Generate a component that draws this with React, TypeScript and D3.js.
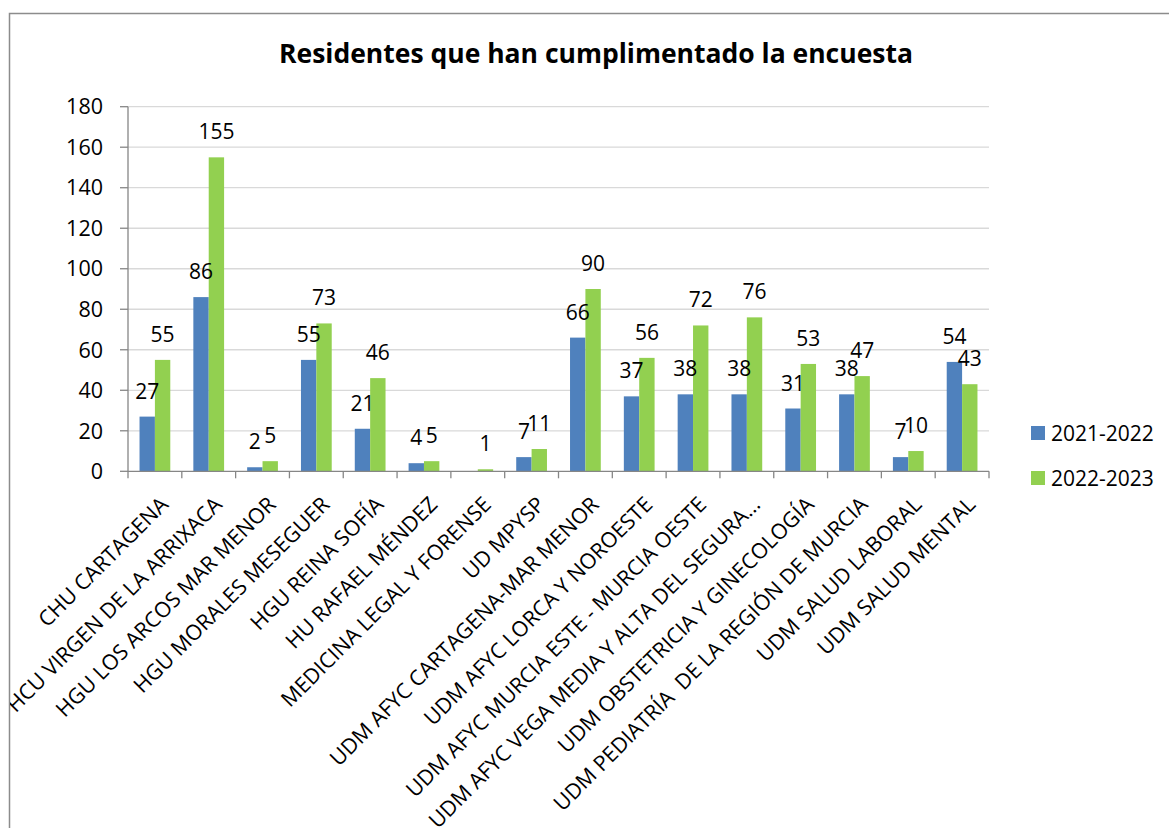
import React from "react";
import * as d3 from "d3";

const title = "Residentes que han cumplimentado la encuesta";
const categories = [
  "CHU CARTAGENA",
  "HCU VIRGEN DE LA ARRIXACA",
  "HGU LOS ARCOS MAR MENOR",
  "HGU MORALES MESEGUER",
  "HGU REINA SOFÍA",
  "HU RAFAEL MÉNDEZ",
  "MEDICINA LEGAL Y FORENSE",
  "UD MPYSP",
  "UDM AFYC CARTAGENA-MAR MENOR",
  "UDM AFYC LORCA Y NOROESTE",
  "UDM AFYC MURCIA ESTE - MURCIA OESTE",
  "UDM AFYC VEGA MEDIA Y ALTA DEL SEGURA…",
  "UDM OBSTETRICIA Y GINECOLOGÍA",
  "UDM PEDIATRÍA  DE LA REGIÓN DE MURCIA",
  "UDM SALUD LABORAL",
  "UDM SALUD MENTAL",
];
const seriesNames = ["2021-2022", "2022-2023"];
const values2021: (number | null)[] = [27, 86, 2, 55, 21, 4, null, 7, 66, 37, 38, 38, 31, 38, 7, 54];
const values2022: (number | null)[] = [55, 155, 5, 73, 46, 5, 1, 11, 90, 56, 72, 76, 53, 47, 10, 43];
const yTicks = [0, 20, 40, 60, 80, 100, 120, 140, 160, 180];
const colors = ["#4f81bd", "#92d050"];

const FONT = "'Open Sans', sans-serif";

export default function App() {
  const W = 1169, H = 828;
  const left = 128, right = 989, top = 106.7, bottom = 471.3;
  const x = d3.scaleBand<string>().domain(categories).range([left, right]).paddingInner(0).paddingOuter(0);
  const xs = d3.scaleBand<string>().domain(seriesNames).range([0, x.step()]).paddingInner(0).paddingOuter(0.75);
  const y = d3.scaleLinear().domain([0, 180]).range([bottom, top]);
  const series = [values2021, values2022];

  return (
    <svg width={W} height={H} style={{ position: "absolute", left: 0, top: 0, background: "#fff" }} fontFamily={FONT}>
      <defs>
        <clipPath id="chartClip">
          <rect x={10} y={14} width={W} height={H} />
        </clipPath>
      </defs>
      <rect x={9.5} y={13.5} width={W + 10} height={H + 10} fill="#fff" stroke="#8c8c8c" strokeWidth={1.5} />
      <text x={596} y={63} textAnchor="middle" fontSize={26.5} fontWeight="bold" fill="#000">{title}</text>
      {/* gridlines */}
      {yTicks.filter(t => t > 0).map(t => (
        <line key={"g" + t} x1={left} x2={right} y1={y(t)} y2={y(t)} stroke="#d9d9d9" strokeWidth={1.3} />
      ))}
      {/* bars */}
      {series.map((vals, si) =>
        vals.map((v, i) =>
          v == null ? null : (
            <rect key={`b${si}-${i}`} x={(x(categories[i]) as number) + (xs(seriesNames[si]) as number)}
              y={y(v)} width={xs.bandwidth()} height={y(0) - y(v)} fill={colors[si]} />
          )
        )
      )}
      {/* y axis */}
      <line x1={left} x2={left} y1={top} y2={bottom} stroke="#868686" strokeWidth={1.3} />
      {yTicks.map(t => (
        <g key={"y" + t}>
          <line x1={left - 8} x2={left} y1={y(t)} y2={y(t)} stroke="#868686" strokeWidth={1.3} />
          <text x={103} y={y(t)} dy="0.36em" textAnchor="end" fontSize={21.5} fill="#000">{t}</text>
        </g>
      ))}
      {/* x axis */}
      <line x1={left} x2={right} y1={bottom} y2={bottom} stroke="#868686" strokeWidth={1.3} />
      {categories.map((c, i) => (
        <line key={"xt" + i} x1={x(c) as number} x2={x(c) as number} y1={bottom} y2={bottom + 7} stroke="#868686" strokeWidth={1.3} />
      ))}
      <line x1={right} x2={right} y1={bottom} y2={bottom + 7} stroke="#868686" strokeWidth={1.3} />
      {/* data labels */}
      {series.map((vals, si) =>
        vals.map((v, i) =>
          v == null ? null : (
            <text key={`l${si}-${i}`} x={(x(categories[i]) as number) + (xs(seriesNames[si]) as number) + xs.bandwidth() / 2}
              y={y(v) - 18} textAnchor="middle" fontSize={21} fill="#000">{v}</text>
          )
        )
      )}
      {/* category labels */}
      <g clipPath="url(#chartClip)">
        {categories.map((c, i) => (
          <text key={"xl" + i} transform={`translate(${(x(c) as number) + x.bandwidth() / 2 + 4},${bottom + 24}) rotate(-45)`}
            textAnchor="end" dy="0.7em" fontSize={21.4} fill="#000" style={{ whiteSpace: "pre" }}>{c}</text>
        ))}
      </g>
      {/* legend */}
      {seriesNames.map((s, i) => (
        <g key={"lg" + i}>
          <rect x={1031} y={426 + i * 45} width={14} height={14} fill={colors[i]} />
          <text x={1051} y={440.5 + i * 45} fontSize={21} fill="#000">{s}</text>
        </g>
      ))}
    </svg>
  );
}
